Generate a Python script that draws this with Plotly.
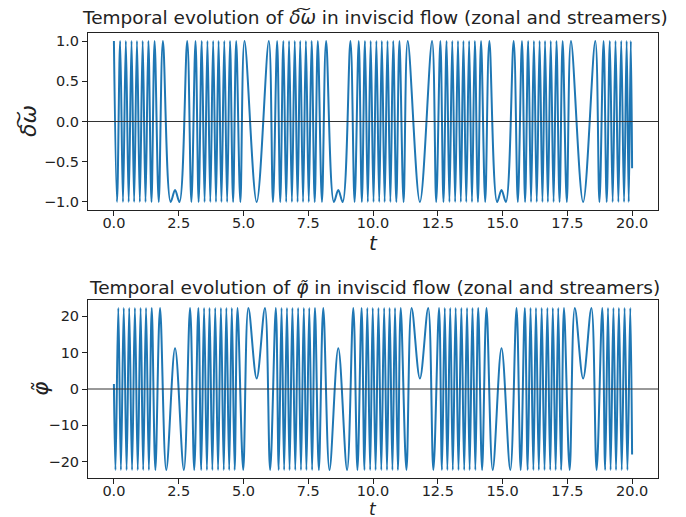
import plotly.graph_objects as go

# ---------------- top panel: delta-omega (extrema) ----------------
dw_peak_t = [0.00, 0.24, 0.46, 0.68, 0.89, 1.11, 1.33, 1.57, 1.89,
             2.83, 3.15, 3.39, 3.61, 3.83, 4.04, 4.26, 4.48, 4.72, 5.04,
             5.98, 6.30, 6.54, 6.76, 6.98, 7.19, 7.41, 7.63, 7.87, 8.19,
             9.13, 9.45, 9.69, 9.91, 10.13, 10.34, 10.56, 10.78, 11.02, 11.34,
             12.28, 12.60, 12.84, 13.06, 13.28, 13.49, 13.71, 13.93, 14.17, 14.49,
             15.43, 15.75, 15.99, 16.21, 16.43, 16.64, 16.86, 17.08, 17.32, 17.64,
             18.58, 18.90, 19.14, 19.36, 19.58, 19.79, 19.95]
dw_trough_t = [0.12, 0.35, 0.57, 0.78, 1.00, 1.22, 1.45, 1.73, 2.19, 2.53,
               2.99, 3.27, 3.50, 3.72, 3.94, 4.15, 4.37, 4.60, 4.88, 5.51,
               6.14, 6.42, 6.65, 6.87, 7.09, 7.30, 7.52, 7.75, 8.03, 8.49, 8.83,
               9.29, 9.57, 9.80, 10.02, 10.24, 10.45, 10.67, 10.90, 11.18, 11.81,
               12.44, 12.72, 12.95, 13.17, 13.39, 13.60, 13.82, 14.05, 14.33, 14.79, 15.13,
               15.59, 15.87, 16.10, 16.32, 16.54, 16.75, 16.97, 17.20, 17.48, 18.11,
               18.74, 19.02, 19.25, 19.47, 19.69, 19.87]
dw_peak_v = 1.0
dw_trough_v = -1.0
dw_extra_t = [2.36, 8.66, 14.96, 20.0]
dw_extra_v = [-0.85, -0.85, -0.85, -0.58]

# ---------------- bottom panel: phi (extrema) ----------------
ph_start_t = [0.0]
ph_start_v = [1.4]
ph_peak_t = [0.17, 0.38, 0.59, 0.81, 1.03, 1.24, 1.46, 1.78,
             2.94, 3.26, 3.48, 3.69, 3.91, 4.13, 4.34, 4.55, 4.77, 5.19,
             5.83, 6.25, 6.47, 6.68, 6.89, 7.11, 7.33, 7.54, 7.76, 8.08,
             9.24, 9.56, 9.78, 9.99, 10.21, 10.43, 10.64, 10.85, 11.07, 11.49,
             12.13, 12.55, 12.77, 12.98, 13.19, 13.41, 13.63, 13.84, 14.06, 14.38,
             15.54, 15.86, 16.08, 16.29, 16.51, 16.73, 16.94, 17.15, 17.37, 17.79,
             18.43, 18.85, 19.07, 19.28, 19.49, 19.71, 19.93]
ph_trough_t = [0.06, 0.27, 0.49, 0.70, 0.92, 1.13, 1.35, 1.60, 2.02, 2.70,
               3.10, 3.37, 3.59, 3.80, 4.02, 4.24, 4.45, 4.66, 4.99,
               6.03, 6.36, 6.57, 6.78, 7.00, 7.22, 7.43, 7.65, 7.91, 8.32, 9.00,
               9.40, 9.67, 9.89, 10.10, 10.32, 10.54, 10.75, 10.96, 11.29,
               12.33, 12.66, 12.87, 13.08, 13.30, 13.52, 13.73, 13.95, 14.21, 14.62, 15.30,
               15.70, 15.97, 16.19, 16.40, 16.62, 16.84, 17.05, 17.26, 17.59,
               18.63, 18.96, 19.17, 19.38, 19.60, 19.82]
ph_peak_v = 22.3
ph_trough_v = -22.3
ph_extra_t = [2.36, 5.51, 8.66, 11.81, 14.96, 18.11, 20.0]
ph_extra_v = [11.2, 2.9, 11.2, 2.9, 11.2, 2.9, -18.0]

x_ticks = [0.0, 2.5, 5.0, 7.5, 10.0, 12.5, 15.0, 17.5, 20.0]
x_tick_text = ["0.0", "2.5", "5.0", "7.5", "10.0", "12.5", "15.0", "17.5", "20.0"]
dw_ticks = [-1.0, -0.5, 0.0, 0.5, 1.0]
dw_tick_text = ["\u22121.0", "\u22120.5", "0.0", "0.5", "1.0"]
ph_ticks = [-20, -10, 0, 10, 20]
ph_tick_text = ["\u221220", "\u221210", "0", "10", "20"]

title_top = "Temporal evolution of <i>\u03b4\u0360\u03c9</i> in inviscid flow (zonal and streamers)"
title_bot = "Temporal evolution of <i>\u03c6\u0303</i> in inviscid flow (zonal and streamers)"
ylabel_top = "<i>\u03b4\u0360\u03c9</i>"
ylabel_bot = "<i>\u03c6\u0303</i>"
xlabel = "<i>t</i>"


def build(peaks, pv, troughs, tv, extra_t, extra_v):
    pts = [(t, pv) for t in peaks] + [(t, tv) for t in troughs] + list(zip(extra_t, extra_v))
    pts.sort(key=lambda p: p[0])
    return [p[0] for p in pts], [p[1] for p in pts]


x1, y1 = build(dw_peak_t, dw_peak_v, dw_trough_t, dw_trough_v, dw_extra_t, dw_extra_v)
x2, y2 = build(ph_peak_t, ph_peak_v, ph_trough_t, ph_trough_v,
               ph_start_t + ph_extra_t, ph_start_v + ph_extra_v)

BLUE = "#1f77b4"
FONT = "DejaVu Sans"
INK = "#222222"
W, H = 686.0, 517.0
OFF = 8.0            # page body margin: the figure is drawn 8 px right/down of the window corner
L, R = 80, 36        # figure-pixel margins (plot area from 80 to 650)


def fx(screen_x):     # screen px -> paper x
    return (screen_x - OFF - L) / (W - L - R)


def fy(screen_y):     # screen px -> paper y
    return 1 - (screen_y - OFF) / H


fig = go.Figure()
fig.add_trace(go.Scatter(x=x1, y=y1, mode="lines", line=dict(color=BLUE, width=2.0, shape="spline", smoothing=1.0),
                         xaxis="x", yaxis="y", showlegend=False, hoverinfo="skip"))
fig.add_trace(go.Scatter(x=x2, y=y2, mode="lines", line=dict(color=BLUE, width=2.0, shape="spline", smoothing=1.0),
                         xaxis="x2", yaxis="y2", showlegend=False, hoverinfo="skip"))

axis_common = dict(showline=True, linecolor=INK, linewidth=1, mirror=True, ticks="outside",
                   ticklen=5, tickwidth=1, tickcolor=INK, showgrid=False, zeroline=False,
                   automargin=False, tickfont=dict(family=FONT, size=14.5, color=INK))
xaxis_extra = dict(ticklabelstandoff=-5)

fig.update_layout(
    width=686, height=517,
    margin=dict(l=L, r=R, t=0, b=0),
    paper_bgcolor="white", plot_bgcolor="white",
    xaxis=dict(domain=[0, 1], anchor="y", range=[-1.0, 21.0], tickvals=x_ticks, ticktext=x_tick_text,
               **axis_common, **xaxis_extra),
    yaxis=dict(domain=[fy(210), fy(33)], anchor="x", range=[-1.1, 1.1], tickvals=dw_ticks,
               ticktext=dw_tick_text, **axis_common),
    xaxis2=dict(domain=[0, 1], anchor="y2", range=[-1.0, 21.0], tickvals=x_ticks, ticktext=x_tick_text,
                **axis_common, **xaxis_extra),
    yaxis2=dict(domain=[fy(478), fy(300)], anchor="x2", range=[-24.5, 24.5], tickvals=ph_ticks,
                ticktext=ph_tick_text, **axis_common),
    shapes=[
        dict(type="line", xref="x domain", yref="y", x0=0, x1=1, y0=0, y1=0,
             line=dict(color="#333333", width=1), layer="above"),
        dict(type="line", xref="x2 domain", yref="y2", x0=0, x1=1, y0=0, y1=0,
             line=dict(color="#333333", width=1), layer="above"),
    ],
    annotations=[
        dict(text=title_top, xref="paper", yref="paper", x=fx(375), y=fy(18),
             xanchor="center", yanchor="middle", showarrow=False,
             font=dict(family=FONT, size=18.5, color=INK)),
        dict(text=title_bot, xref="paper", yref="paper", x=fx(374), y=fy(287),
             xanchor="center", yanchor="middle", showarrow=False,
             font=dict(family=FONT, size=18.5, color=INK)),
        dict(text=ylabel_top, xref="paper", yref="paper", x=fx(28), y=fy(121), textangle=-90,
             xanchor="center", yanchor="middle", showarrow=False,
             font=dict(family=FONT, size=22, color=INK)),
        dict(text=ylabel_bot, xref="paper", yref="paper", x=fx(40), y=fy(389), textangle=-90,
             xanchor="center", yanchor="middle", showarrow=False,
             font=dict(family=FONT, size=22, color=INK)),
        dict(text=xlabel, xref="paper", yref="paper", x=fx(373), y=fy(243),
             xanchor="center", yanchor="middle", showarrow=False,
             font=dict(family=FONT, size=20, color=INK)),
        dict(text=xlabel, xref="paper", yref="paper", x=fx(373), y=fy(508.5),
             xanchor="center", yanchor="middle", showarrow=False,
             font=dict(family=FONT, size=17, color=INK)),
    ],
)

fig.write_html("out.html")
